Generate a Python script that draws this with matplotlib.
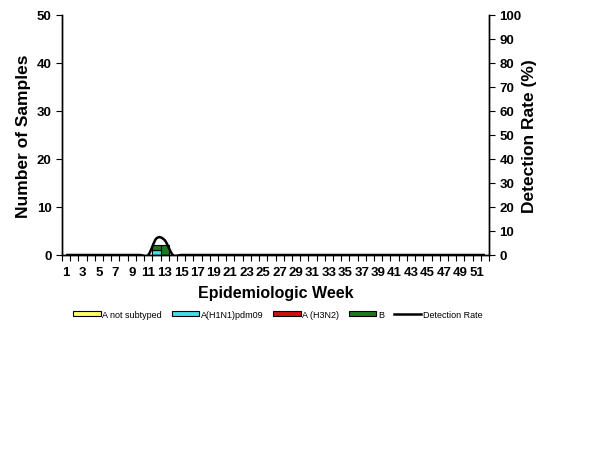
import matplotlib
matplotlib.use("Agg")
import matplotlib.pyplot as plt
import numpy as np
from matplotlib.path import Path
from matplotlib.patches import PathPatch
from matplotlib.lines import Line2D
from matplotlib.patches import Patch

plt.rcParams['font.family'] = ['Liberation Sans', 'DejaVu Sans']

weeks = np.arange(1, 53)
week_labels = [str(w) for w in range(1, 53, 2)]

a_not_subtyped = np.zeros(52)
a_h1n1 = np.zeros(52)
a_h3n2 = np.zeros(52)
b_flu = np.zeros(52)
a_h1n1[11] = 1          # week 12
b_flu[11] = 1           # week 12
b_flu[12] = 2           # week 13

detection_rate = np.zeros(52)
detection_rate[11] = 6.9   # week 12
detection_rate[12] = 6.2   # week 13

series = [
    ("A not subtyped", a_not_subtyped, "#FFFF66"),
    ("A(H1N1)pdm09", a_h1n1, "#44DDE6"),
    ("A (H3N2)", a_h3n2, "#CC1111"),
    ("B", b_flu, "#1E7A1E"),
]

fig = plt.figure(figsize=(6.14, 4.6), dpi=100)
ax = fig.add_axes([62 / 614, 1 - 256 / 460, 427 / 614, 240 / 460])
ax2 = ax.twinx()

bottom = np.zeros(52)
for name, vals, col in series:
    mask = vals > 0
    ax.bar(weeks[mask], vals[mask], bottom=bottom[mask], width=1.0,
           color=col, edgecolor="black", linewidth=0.8)
    bottom += vals

# smoothed line (Excel style) as bezier through weekly points
pts = np.column_stack([weeks, detection_rate])
verts = [tuple(pts[0])]
codes = [Path.MOVETO]
n = len(pts)
for i in range(n - 1):
    p0 = pts[max(i - 1, 0)]
    p1 = pts[i]
    p2 = pts[i + 1]
    p3 = pts[min(i + 2, n - 1)]
    c1 = p1 + (p2 - p0) / 6
    c2 = p2 - (p3 - p1) / 6
    verts += [tuple(c1), tuple(c2), tuple(p2)]
    codes += [Path.CURVE4] * 3
ax2.add_patch(PathPatch(Path(verts, codes), facecolor="none",
                        edgecolor="black", linewidth=1.8, zorder=5))

ax.set_xlim(0.5, 52.5)
ax.set_ylim(0, 50)
ax2.set_ylim(0, 100)
ax.set_yticks(range(0, 51, 10))
ax2.set_yticks(range(0, 101, 10))
ax.set_xticks(np.arange(0.5, 53, 1))
ax.set_xticklabels([])
ax.set_xticks(range(1, 53, 2), minor=True)
ax.set_xticklabels(week_labels, minor=True)
ax.tick_params(axis="x", which="major", length=4, width=0.8, direction="out")
ax.tick_params(axis="x", which="minor", length=0, pad=8, labelsize=9.5)
ax.tick_params(axis="y", length=4, width=0.8, labelsize=9.5)
ax2.tick_params(axis="y", length=4, width=0.8, labelsize=9.5)
for lbl in ax.get_xticklabels(minor=True) + ax.get_yticklabels() + ax2.get_yticklabels():
    lbl.set_fontweight("bold")

for a in (ax, ax2):
    a.spines["top"].set_visible(False)
    for s in ("left", "right", "bottom"):
        a.spines[s].set_linewidth(1.0)

ax.set_ylabel("Number of Samples", fontsize=12.5, fontweight="bold", labelpad=4)
ax2.set_ylabel("Detection Rate (%)", fontsize=12.5, fontweight="bold", labelpad=0)
ax.set_xlabel("Epidemiologic Week", fontsize=11.5, fontweight="bold", labelpad=5)

handles = [Patch(facecolor=col, edgecolor="black", linewidth=0.8, label=name)
           for name, vals, col in series]
handles.append(Line2D([], [], color="black", linewidth=1.8, label="Detection Rate"))
fig.legend(handles=handles, loc="center", bbox_to_anchor=(278 / 614, 1 - 315 / 460),
           ncol=5, frameon=False, fontsize=6.5, handlelength=3.0, handleheight=0.45,
           columnspacing=1.1, handletextpad=0.2)

fig.savefig("out.png", dpi=100)
